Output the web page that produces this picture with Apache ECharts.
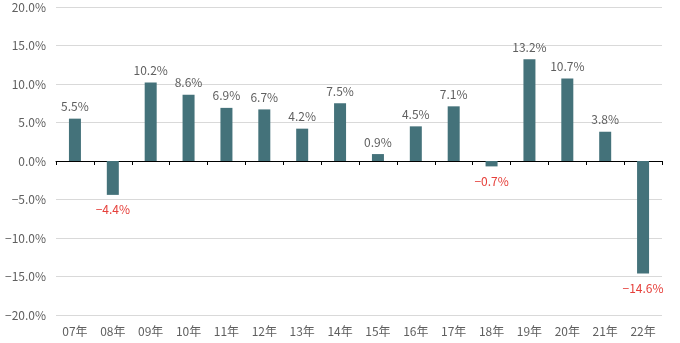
<!DOCTYPE html>
<html>
<head>
<meta charset="utf-8">
<script src="https://cdn.jsdelivr.net/npm/echarts@6/dist/echarts.min.js"></script>
<style>
  html, body { margin: 0; padding: 0; background: #fff; }
  #chart { width: 680px; height: 343px; }
</style>
</head>
<body>
<div id="chart"></div>
<script>
// Year-over-year change by year
const years = ['07年', '08年', '09年', '10年', '11年', '12年', '13年', '14年',
               '15年', '16年', '17年', '18年', '19年', '20年', '21年', '22年'];
const changes = [5.5, -4.4, 10.2, 8.6, 6.9, 6.7, 4.2, 7.5,
                 0.9, 4.5, 7.1, -0.7, 13.2, 10.7, 3.8, -14.6];

const FONT = '"Noto Sans CJK JP", "Noto Sans", sans-serif';
const TEXT_GRAY = '#5f5f5f';
const NEG_RED = '#e6403b';

function pct(v) { return (v < 0 ? '−' : '') + Math.abs(v).toFixed(1) + '%'; }

const chart = echarts.init(document.getElementById('chart'));
chart.setOption({
  animation: false,
  grid: { left: 56, right: 18, top: 7, bottom: 28 },
  xAxis: {
    type: 'category',
    data: years,
    axisLine: { onZero: true, lineStyle: { color: '#000', width: 1 } },
    axisTick: { show: true, length: 4, lineStyle: { color: '#000' } },
    axisLabel: {
      color: TEXT_GRAY, fontFamily: FONT, fontSize: 12,
      margin: 10
    }
  },
  yAxis: {
    type: 'value',
    min: -20, max: 20, interval: 5,
    axisLine: { show: false },
    axisTick: { show: false },
    splitLine: { lineStyle: { color: '#d9d9d9', width: 1 } },
    axisLabel: {
      color: TEXT_GRAY, fontFamily: FONT, fontSize: 12, margin: 10,
      formatter: pct
    }
  },
  series: [{
    type: 'bar',
    data: changes.map(function (v) {
      return {
        value: v,
        label: {
          position: v < 0 ? 'bottom' : 'top',
          distance: v < 0 ? 9 : 6,
          color: v < 0 ? NEG_RED : TEXT_GRAY
        }
      };
    }),
    barWidth: 12,
    itemStyle: { color: '#44727a' },
    label: {
      show: true,
      fontFamily: FONT, fontSize: 12,
      formatter: function (p) { return pct(p.value); }
    }
  }]
});
</script>
</body>
</html>
